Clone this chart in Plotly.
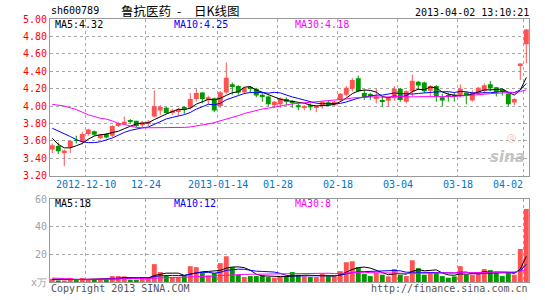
import numpy as np
import pandas as pd
import plotly.graph_objects as go

dates = ["2012-11-30",
         "2012-12-03", "2012-12-04", "2012-12-05", "2012-12-06", "2012-12-07",
         "2012-12-10", "2012-12-11", "2012-12-12", "2012-12-13", "2012-12-14",
         "2012-12-17", "2012-12-18", "2012-12-19", "2012-12-20", "2012-12-21",
         "2012-12-24", "2012-12-25", "2012-12-26", "2012-12-27", "2012-12-28",
         "2012-12-31",
         "2013-01-04", "2013-01-07", "2013-01-08", "2013-01-09", "2013-01-10",
         "2013-01-11", "2013-01-14", "2013-01-15", "2013-01-16", "2013-01-17",
         "2013-01-18", "2013-01-21", "2013-01-22", "2013-01-23", "2013-01-24",
         "2013-01-25", "2013-01-28", "2013-01-29", "2013-01-30", "2013-01-31",
         "2013-02-01", "2013-02-04", "2013-02-05", "2013-02-06", "2013-02-07",
         "2013-02-08", "2013-02-18", "2013-02-19", "2013-02-20", "2013-02-21",
         "2013-02-22", "2013-02-25", "2013-02-26", "2013-02-27", "2013-02-28",
         "2013-03-01", "2013-03-04", "2013-03-05", "2013-03-06", "2013-03-07",
         "2013-03-08", "2013-03-11", "2013-03-12", "2013-03-13", "2013-03-14",
         "2013-03-15", "2013-03-18", "2013-03-19", "2013-03-20", "2013-03-21",
         "2013-03-22", "2013-03-25", "2013-03-26", "2013-03-27", "2013-03-28",
         "2013-03-29", "2013-04-01", "2013-04-02"]

open_ = [3.50, 3.54, 3.47, 3.53, 3.61, 3.59, 3.68, 3.71, 3.63, 3.68,
         3.66, 3.78, 3.79, 3.83, 3.83, 3.79, 3.80, 3.88, 3.95, 3.98,
         3.93, 3.94, 3.98, 3.98, 4.08, 4.155, 4.07, 4.09, 4.00, 4.155,
         4.25, 4.23, 4.16, 4.21, 4.20, 4.13, 4.11, 4.01, 4.02, 4.08,
         4.06, 4.01, 3.985, 4.01, 3.98, 4.00, 4.045, 4.01, 4.07, 4.13,
         4.20, 4.32, 4.15, 4.13, 4.09, 4.06, 4.06, 4.09, 4.20, 4.05,
         4.17, 4.28, 4.27, 4.175, 4.23, 4.10, 4.12, 4.115, 4.13, 4.155,
         4.065, 4.155, 4.175, 4.25, 4.215, 4.19, 4.14, 4.04, 4.46, 4.71]
high = [3.57, 3.58, 3.50, 3.61, 3.66, 3.70, 3.74, 3.72, 3.68, 3.69,
        3.78, 3.82, 3.88, 3.85, 3.83, 3.83, 3.84, 4.18, 4.01, 3.99,
        3.97, 3.98, 4.00, 4.15, 4.20, 4.16, 4.12, 4.10, 4.17, 4.50,
        4.27, 4.24, 4.22, 4.23, 4.21, 4.15, 4.12, 4.06, 4.10, 4.10,
        4.07, 4.03, 4.01, 4.03, 4.01, 4.06, 4.06, 4.06, 4.15, 4.23,
        4.32, 4.35, 4.19, 4.15, 4.20, 4.11, 4.11, 4.23, 4.21, 4.18,
        4.36, 4.29, 4.28, 4.24, 4.24, 4.14, 4.155, 4.15, 4.25, 4.16,
        4.18, 4.22, 4.26, 4.29, 4.22, 4.20, 4.15, 4.09, 4.49, 4.88]
low = [3.46, 3.45, 3.31, 3.46, 3.57, 3.56, 3.66, 3.66, 3.62, 3.63,
       3.64, 3.76, 3.78, 3.80, 3.76, 3.76, 3.77, 3.87, 3.90, 3.91,
       3.90, 3.89, 3.91, 3.96, 4.05, 4.03, 4.02, 3.93, 3.98, 4.14,
       4.13, 4.13, 4.14, 4.15, 4.10, 4.05, 4.00, 3.98, 3.98, 4.01,
       3.98, 3.95, 3.95, 3.95, 3.93, 3.97, 4.00, 4.00, 4.05, 4.11,
       4.17, 4.16, 4.07, 4.07, 4.03, 3.99, 3.99, 4.06, 4.05, 4.03,
       4.11, 4.185, 4.15, 4.11, 4.05, 4.00, 4.05, 4.05, 4.10, 4.02,
       4.05, 4.14, 4.14, 4.17, 4.11, 4.12, 4.00, 4.01, 4.30, 4.49]
close = [3.55, 3.48, 3.49, 3.60, 3.60, 3.68, 3.73, 3.67, 3.67, 3.64,
         3.77, 3.80, 3.82, 3.82, 3.77, 3.81, 3.82, 4.00, 3.99, 3.92,
         3.95, 3.96, 3.97, 4.08, 4.15, 4.08, 4.10, 3.95, 4.16, 4.325,
         4.23, 4.155, 4.21, 4.20, 4.12, 4.11, 4.02, 4.05, 4.09, 4.05,
         4.04, 3.985, 4.00, 3.985, 4.00, 4.05, 4.01, 4.05, 4.14, 4.21,
         4.30, 4.17, 4.10, 4.12, 4.11, 4.05, 4.10, 4.20, 4.07, 4.17,
         4.29, 4.235, 4.17, 4.23, 4.11, 4.065, 4.11, 4.11, 4.20, 4.12,
         4.155, 4.21, 4.24, 4.205, 4.155, 4.17, 4.02, 4.08, 4.49, 4.88]
volume = [2.4, 1.0, 0.8, 2.9, 1.4, 2.9, 1.7, 1.7, 1.7, 1.7,
          4.3, 4.3, 4.1, 1.7, 1.7, 3.6, 3.6, 13.0, 7.2, 4.8,
          3.6, 3.6, 4.8, 11.5, 10.8, 6.5, 4.8, 6.5, 13.7, 18.7,
          10.8, 5.3, 3.6, 4.3, 4.3, 4.8, 3.6, 3.1, 4.1, 4.1,
          7.2, 5.3, 4.1, 3.6, 3.6, 6.0, 4.1, 4.1, 7.9, 14.4,
          15.1, 10.8, 6.0, 4.3, 6.5, 5.3, 4.1, 9.4, 5.3, 4.3,
          15.8, 10.1, 5.3, 6.5, 6.5, 4.3, 3.1, 4.1, 11.5, 5.3,
          5.3, 6.5, 9.4, 8.6, 6.5, 4.3, 6.5, 5.3, 24.0, 53.0]

# moving-average values before a full window exists
ma5_head = [3.63, 3.56, 3.52, 3.52]
ma10_head = [3.745, 3.715, 3.68, 3.65, 3.615, 3.59, 3.58, 3.58, 3.59]
ma30_head = [4.02, 4.01, 4.00, 3.98, 3.96, 3.93, 3.90, 3.88, 3.86, 3.85,
             3.83, 3.80, 3.79, 3.77, 3.755, 3.75, 3.75, 3.75, 3.75, 3.75,
             3.75, 3.75, 3.755, 3.76, 3.77, 3.78, 3.795, 3.81, 3.83]
vma5_head = [1.9, 1.8, 1.7, 1.7]
vma10_head = [1.9, 1.8, 1.8, 1.8, 1.8, 1.8, 1.8, 1.8, 1.8]
vma30_head = [2.9, 2.6, 2.3, 2.1, 2.0, 2.0, 2.0, 2.0, 2.1, 2.1,
              2.2, 2.3, 2.4, 2.4, 2.4, 2.5, 2.6, 2.9, 3.1, 3.2,
              3.3, 3.4, 3.5, 3.8, 4.0, 4.1, 4.2, 4.3, 4.7]

tick_dates = ["2012-12-10", "2012-12-24", "2013-01-14", "2013-01-28",
              "2013-02-18", "2013-03-04", "2013-03-18", "2013-04-02"]
tick_labels = ["2012-12-10", "12-24", "2013-01-14", "01-28",
               "02-18", "03-04", "03-18", "04-02"]
price_ticks = [3.2, 3.4, 3.6, 3.8, 4.0, 4.2, 4.4, 4.6, 4.8, 5.0]
vol_ticks = [0, 20, 40, 60]
vol_tick_labels = ["x万", "20", "40", "60"]

title_parts = ["鲁抗医药", "-", "日K线图"]
code = "sh600789"
stamp = "2013-04-02 13:10:21"
price_ma_labels = ["MA5:4.32", "MA10:4.25", "MA30:4.18"]
vol_ma_labels = ["MA5:18", "MA10:12", "MA30:8"]

RED = "#FF5353"
GREEN = "#009A00"
MONO = "DejaVu Sans Mono"

n = len(dates)
x = list(range(n))
o = np.array(open_); c = np.array(close); h = np.array(high); l = np.array(low)
up = c >= o
colors = [RED if u else GREEN for u in up]


def ma(vals, w, head):
    s = pd.Series(vals, dtype=float).rolling(w).mean().to_numpy()
    s[:w - 1] = head
    return s


fig = go.Figure()

# wicks
for flag, col in ((True, RED), (False, GREEN)):
    wx, wy = [], []
    for i in range(n):
        if bool(up[i]) == flag:
            wx += [x[i], x[i], None]
            wy += [l[i], h[i], None]
    fig.add_trace(go.Scatter(x=wx, y=wy, mode="lines", line=dict(color=col, width=1),
                             hoverinfo="skip", showlegend=False, xaxis="x", yaxis="y"))

# bodies
body_base = np.minimum(o, c)
body_h = np.maximum(np.abs(c - o), 0.008)
fig.add_trace(go.Bar(x=x, y=body_h, base=body_base, width=0.82,
                     marker=dict(color=colors, line=dict(width=0)),
                     showlegend=False, xaxis="x", yaxis="y"))

for vals, w, head, col in ((close, 5, ma5_head, "black"), (close, 10, ma10_head, "#0000FF"),
                           (close, 30, ma30_head, "#FF00FF")):
    fig.add_trace(go.Scatter(x=x, y=ma(vals, w, head), mode="lines",
                             line=dict(color=col, width=1), showlegend=False,
                             hoverinfo="skip", xaxis="x", yaxis="y"))

# volume
fig.add_trace(go.Bar(x=x, y=volume, width=0.82, marker=dict(color=colors, line=dict(width=0)),
                     showlegend=False, xaxis="x2", yaxis="y2"))
for vals, w, head, col in ((volume, 5, vma5_head, "black"), (volume, 10, vma10_head, "#0000FF"),
                           (volume, 30, vma30_head, "#FF00FF")):
    fig.add_trace(go.Scatter(x=x, y=ma(vals, w, head), mode="lines",
                             line=dict(color=col, width=1), showlegend=False,
                             hoverinfo="skip", xaxis="x2", yaxis="y2"))

tickpos = [dates.index(d) - 0.4 for d in tick_dates]

W, H = 545, 300
L_, R_, T_, B_ = 50, 529, 19, 285


def px(v):
    return (v - L_) / (R_ - L_)


def py(v):
    return (B_ - v) / (B_ - T_)


grid = dict(showgrid=True, gridcolor="#A8A8A8", griddash="dot", gridwidth=1,
            showline=True, linecolor="#999999", linewidth=1, mirror=True,
            zeroline=False, ticks="")

fig.update_layout(
    width=W, height=H, margin=dict(l=L_, r=W - R_, t=T_, b=H - B_),
    paper_bgcolor="white", plot_bgcolor="white", barmode="overlay",
    showlegend=False,
    xaxis=dict(domain=[0, 1], range=[-0.38, 79.45], anchor="y",
               tickmode="array", tickvals=tickpos, showticklabels=False, **grid),
    xaxis2=dict(domain=[0, 1], range=[-0.38, 79.45], anchor="y2", matches="x",
                tickmode="array", tickvals=tickpos, showticklabels=False, **grid),
    yaxis=dict(domain=[py(177.5), 1], range=[3.2, 5.0], tickmode="array",
               tickvals=price_ticks, ticktext=[f"{v:.2f}" for v in price_ticks],
               tickfont=dict(family=MONO, size=10, color="#FF0000"), **grid),
    yaxis2=dict(domain=[0, py(201.5)], range=[0, 60], tickmode="array",
                tickvals=vol_ticks, ticktext=vol_tick_labels,
                tickfont=dict(family=MONO, size=10, color="#A0A0A0"), **grid),
)

ann = []

# date labels placed on the price x axis
for k, (tp, lab) in enumerate(zip(tickpos, tick_labels)):
    last = k == len(tick_labels) - 1
    ann.append(dict(text=lab, x=tp, xref="x", y=py(186), yref="paper",
                    xanchor="right" if last else "center", yanchor="middle",
                    showarrow=False, xshift=1 if last else 0,
                    font=dict(family=MONO, size=10, color="#0077CC")))


def add(text, xp, yp, anchor="left", color="black", size=10, family=MONO, **kw):
    ann.append(dict(text=text, x=px(xp), y=py(yp), xref="paper", yref="paper",
                    xanchor=anchor, yanchor="middle", showarrow=False,
                    font=dict(family=family, size=size, color=color), **kw))


add(code, 49, 10)
for part, xp in zip(title_parts, (119, 175, 192)):
    add(part, xp, 10, size=12.5, family="Noto Sans CJK SC")
add(stamp, 531, 12, anchor="right")
for lab, xp, col in zip(price_ma_labels, (53, 172, 293), ("black", "#0000FF", "#FF00FF")):
    add(lab, xp, 25, color=col)
for lab, xp, col in zip(vol_ma_labels, (53, 172, 293), ("black", "#0000FF", "#FF00FF")):
    add(lab, xp, 206, color=col)
add("Copyright 2013 SINA.COM", 49, 292, color="#555555")
add("http://finance.sina.com.cn", 530, 292, anchor="right", color="#555555")
add("◎", 512, 139, anchor="center", color="#F5BDBD", size=11, family="DejaVu Sans")
add("<b><i>sina</i></b>", 527, 159, anchor="right", color="#C4C4C4", size=15,
    family="DejaVu Sans")
fig.update_layout(annotations=ann)

fig.write_html("out.html")
